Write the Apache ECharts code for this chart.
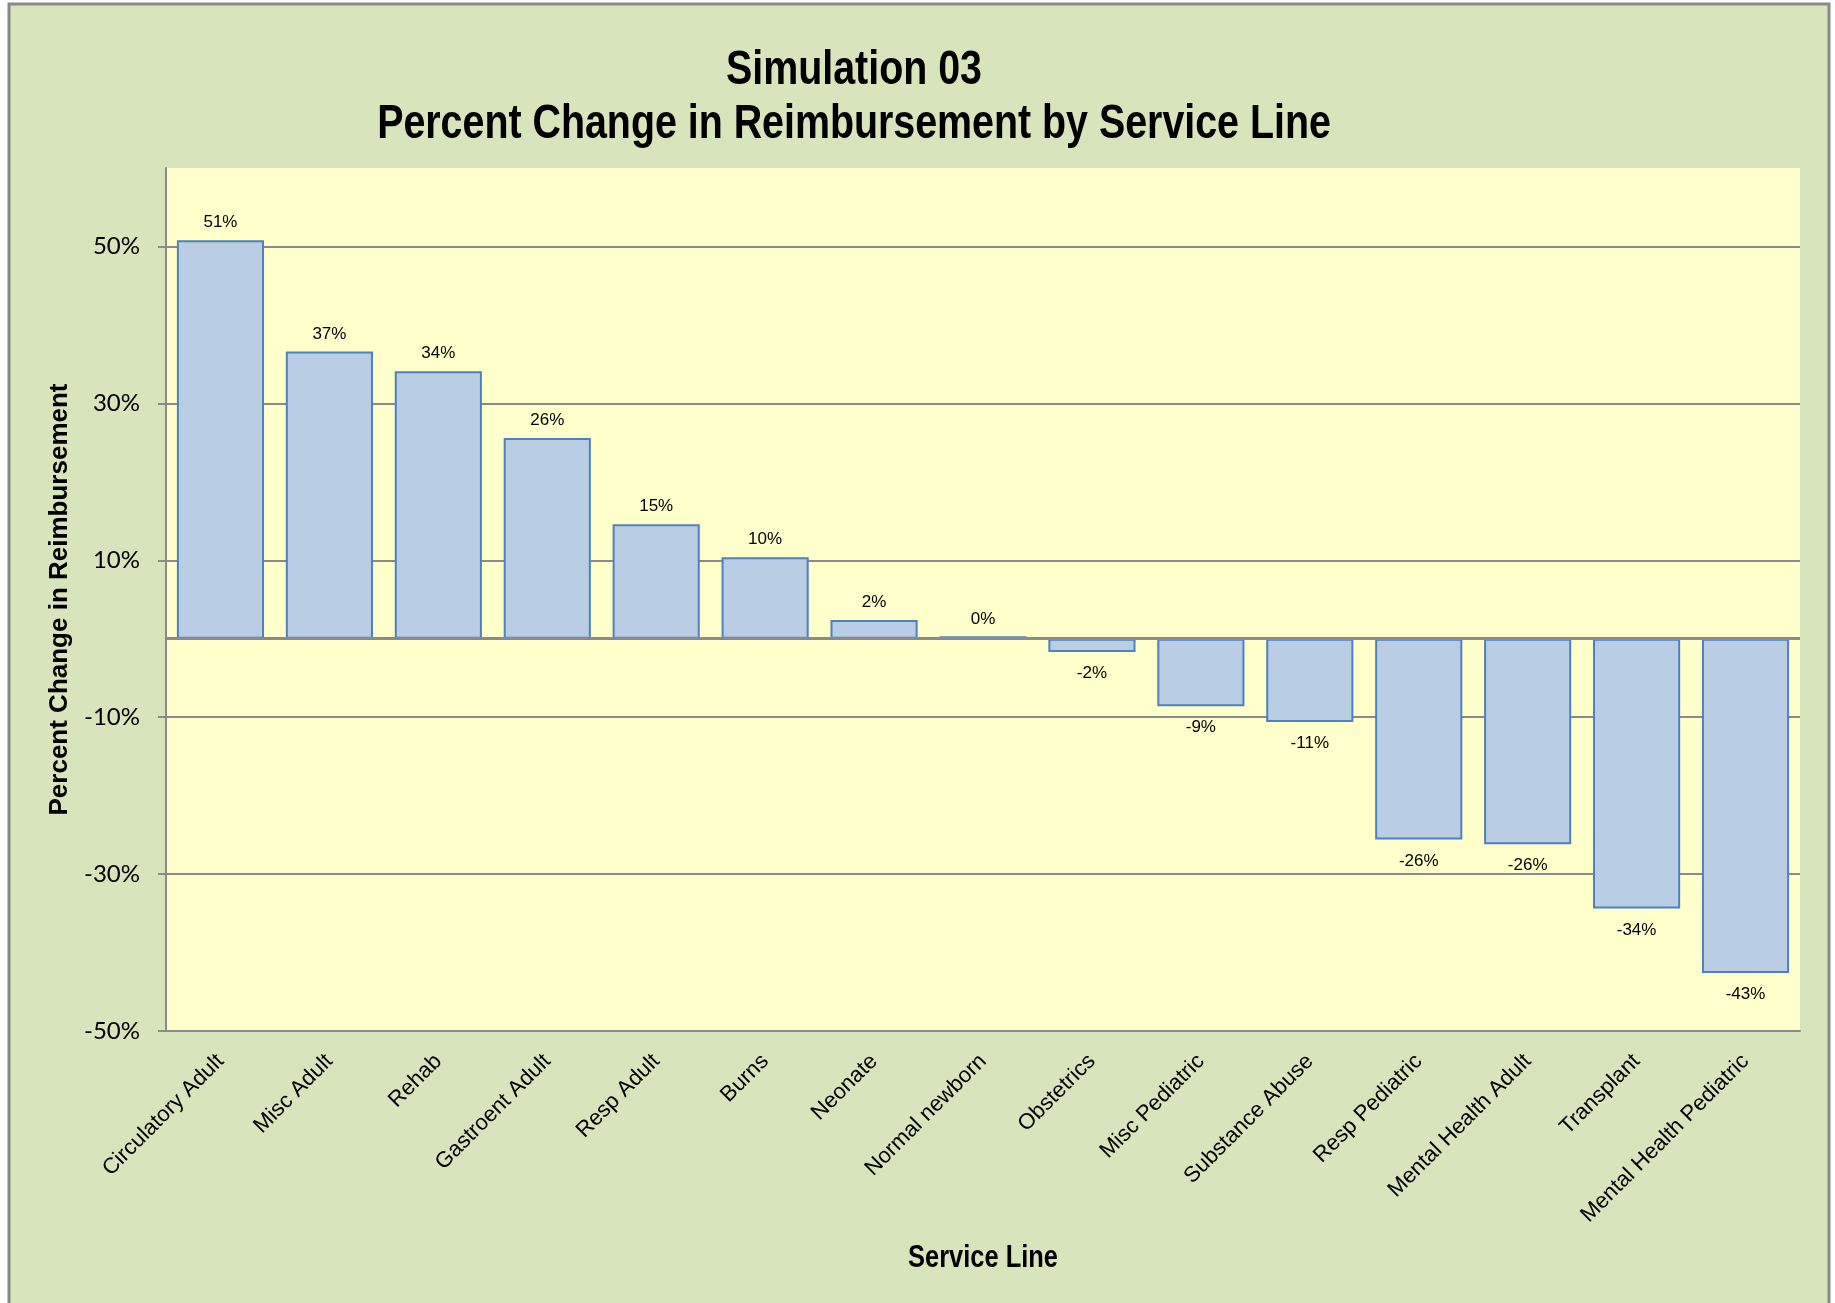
<!DOCTYPE html>
<html>
<head>
<meta charset="utf-8">
<script src="https://cdn.jsdelivr.net/npm/echarts@6/dist/echarts.min.js"></script>
<style>
  html, body { margin: 0; padding: 0; background: #ffffff; }
  #chart { width: 1835px; height: 1303px; }
</style>
</head>
<body>
<div id="chart"></div>
<script>
// Service lines, ordered from largest gain to largest loss
const serviceLines = [
  'Circulatory Adult', 'Misc Adult', 'Rehab', 'Gastroent Adult', 'Resp Adult',
  'Burns', 'Neonate', 'Normal newborn', 'Obstetrics', 'Misc Pediatric',
  'Substance Abuse', 'Resp Pediatric', 'Mental Health Adult', 'Transplant',
  'Mental Health Pediatric'
];

// Percent change in reimbursement for each service line
const pctChange = [
  50.8, 36.6, 34.1, 25.6, 14.6,
  10.4, 2.4, 0.3, -1.7, -8.6,
  -10.6, -25.6, -26.2, -34.4, -42.6
];

// Labelled ticks on the value axis
const tickValues = [-50, -30, -10, 10, 30, 50];

const chartTitle = ['Simulation 03', 'Percent Change in Reimbursement by Service Line'];
const xAxisTitle = 'Service Line';
const yAxisTitle = 'Percent Change in Reimbursement';

const SANS = "'Liberation Sans', Arial, sans-serif";
const GRID_GREY = '#8a8a8a';
const NARROW_SCALE = 0.82; // condensed headline lettering

const barData = pctChange.map(v => ({
  value: v,
  label: { position: v >= 0 ? 'top' : 'bottom', distance: v >= 0 ? 9 : 13 }
}));

function narrowText(text, x, y, size) {
  return {
    type: 'text',
    x: x,
    y: y,
    scaleX: NARROW_SCALE,
    silent: true,
    style: {
      text: text,
      fill: '#000000',
      fontFamily: SANS,
      fontSize: size,
      fontWeight: 'bold',
      align: 'center',
      verticalAlign: 'middle'
    }
  };
}

const chart = echarts.init(document.getElementById('chart'), null, { renderer: 'canvas' });

chart.setOption({
  backgroundColor: '#ffffff',
  animation: false,
  graphic: [
    {
      type: 'rect',
      z: -100,
      silent: true,
      shape: { x: 9, y: 4, width: 1820, height: 1330 },
      style: { fill: '#d8e4bc', stroke: '#898989', lineWidth: 3 }
    },
    narrowText(chartTitle[0], 854, 71, 48),
    narrowText(chartTitle[1], 854, 125, 48),
    narrowText(xAxisTitle, 983, 1258, 31)
  ],
  grid: {
    left: 166,
    right: 35,
    top: 168,
    bottom: 272,
    show: true,
    backgroundColor: '#ffffcc',
    borderWidth: 0,
    containLabel: false,
    outerBoundsMode: 'none'
  },
  xAxis: {
    type: 'category',
    data: serviceLines,
    axisLine: { show: true, onZero: false, lineStyle: { color: GRID_GREY, width: 2 } },
    axisTick: { show: false },
    splitLine: { show: false },
    axisLabel: {
      interval: 0,
      rotate: 45,
      margin: 27,
      fontFamily: SANS,
      fontSize: 22,
      color: '#000000'
    }
  },
  yAxis: {
    type: 'value',
    min: -50,
    max: 60,
    interval: 20,
    name: yAxisTitle,
    nameLocation: 'middle',
    nameGap: 91,
    nameRotate: 90,
    nameTextStyle: {
      fontFamily: SANS,
      fontSize: 26,
      fontWeight: 'bold',
      color: '#000000'
    },
    axisLine: { show: true, lineStyle: { color: GRID_GREY, width: 2 } },
    axisTick: {
      show: true,
      length: 8,
      customValues: tickValues,
      lineStyle: { color: GRID_GREY, width: 2 }
    },
    axisLabel: {
      customValues: tickValues,
      margin: 26,
      fontFamily: "Lato, 'Open Sans', sans-serif",
      fontSize: 24,
      color: '#000000',
      formatter: v => v + '%'
    },
    splitLine: { show: true, lineStyle: { color: GRID_GREY, width: 2 } }
  },
  series: [{
    type: 'bar',
    data: barData,
    barWidth: '80%',
    itemStyle: { color: '#b9cde5', borderColor: '#4f81bd', borderWidth: 2 },
    label: {
      show: true,
      fontFamily: SANS,
      fontSize: 17,
      color: '#000000',
      formatter: p => Math.round(p.value) + '%'
    },
    markLine: {
      silent: true,
      symbol: ['none', 'none'],
      label: { show: false },
      lineStyle: { color: GRID_GREY, width: 3, type: 'solid' },
      data: [{ yAxis: 0 }]
    }
  }]
});
</script>
</body>
</html>
